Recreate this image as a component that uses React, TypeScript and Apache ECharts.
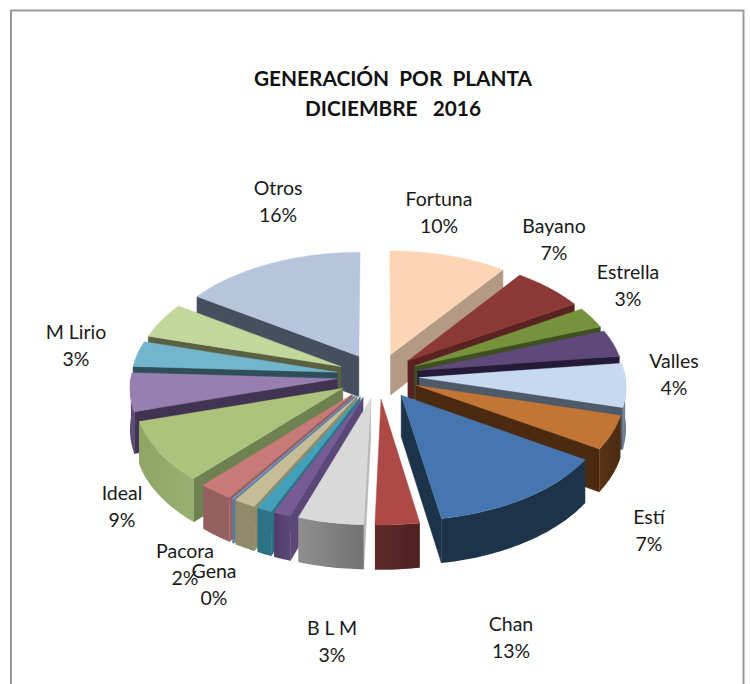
import React, { useEffect, useRef } from "react";
import * as echarts from "echarts";

// ---- data ("" = the slice carries no label in the picture) ----
const plants = ["Fortuna", "Bayano", "Estrella", "Valles", "Estí", "", "Chan", "B L M", "", "", "", "", "Gena", "Pacora", "Ideal", "", "M Lirio", "", "Otros"];
const shares = [10, 6.2, 3.0, 3.8, 6.2, 4.8, 13.3, 3.2, 4.75, 1.25, 1.1, 1.6, 0.1, 2.5, 8.7, 5.4, 3.6, 5, 15.6];
const shownPercent = ["10%", "7%", "3%", "4%", "7%", "", "13%", "3%", "", "", "", "", "0%", "2%", "9%", "", "3%", "", "16%"];

// ---- styles ----
const topColors = ["#fcd5b5", "#8c3836", "#76923c", "#5f497a", "#c6d9f0", "#c27535", "#4676af", "#ad4a47", "#d9d9d9", "#775a96", "#43a0ba", "#c4bd97", "#7ea0d0", "#c77a78", "#adc27c", "#977fb0", "#72b5cc", "#c3d69b", "#b6c4dc"];
const sideColors = ["#b49a84", "#5a2322", "#3e4f21", "#251a38", "#4f5a68", "#4a2b12", "#1d3349", "#52201f", "#b8b8b8", "#5a4878", "#2e7285", "#8e8a6a", "#5a78a0", "#95605f", "#6f8150", "#413352", "#2e4f5a", "#5a6142", "#454f5e"];
const rimLeft = ["#b49a84", "#5a2322", "#3e4f21", "#3a2d52", "#7c8796", "#5a3416", "#1d3349", "#5f2a2a", "#8f8f8f", "#523c6c", "#2e7285", "#908a6a", "#5a78a0", "#95605f", "#8fa566", "#5f4c75", "#2e4f5a", "#5a6142", "#454f5e"];
const rimRight = ["#b49a84", "#5a2322", "#3e4f21", "#3a2d52", "#6c7788", "#4a2b12", "#1d3349", "#4e2020", "#737373", "#5a4878", "#2e7285", "#908a6a", "#5a78a0", "#95605f", "#9ab072", "#5f4c75", "#2e4f5a", "#5a6142", "#454f5e"];

// ---- label placement (centre x, top y of the block) ----
const labelAnchors: Record<string, [number, number]> = {
  Fortuna: [439, 185], Bayano: [554, 212], Estrella: [628, 258], Valles: [674, 347], "Estí": [649, 503],
  Chan: [511, 610], "B L M": [332, 614], Gena: [214, 557], Pacora: [185, 537], Ideal: [122, 479], "M Lirio": [76, 318], Otros: [278, 174],
};

// ---- 3D projection of the exploded pie ----
const CX = 378, CY = 376, RX = 206, RY = 113.8, PERSP = 0.07, EXPLODE = 0.2, DEPTH = 41;
const project = (gx: number, gy: number, drop = 0): number[] => {
  const s = 1 / (1 - PERSP * gy);
  return [CX + RX * gx * s, CY + RY * gy * s + drop * s];
};
const rimPoint = (mid: number, a: number, drop = 0) =>
  project(EXPLODE * Math.sin(mid) + Math.sin(a), -EXPLODE * Math.cos(mid) - Math.cos(a), drop);
const apexPoint = (mid: number, drop = 0) => project(EXPLODE * Math.sin(mid), -EXPLODE * Math.cos(mid), drop);

const total = shares.reduce((a, b) => a + b, 0);
const tableRows = (() => {
  let acc = 0;
  const rows = shares.map((v, i) => {
    const row = [i, v, acc];
    acc += v;
    return row;
  });
  const depth = (r: number[]) => -Math.cos(((r[2] + r[1] / 2) / total) * 2 * Math.PI);
  return rows.slice().sort((a, b) => depth(a) - depth(b));
})();

const renderSlice = (_: any, api: any) => {
  const i = api.value(0);
  const start = (api.value(2) / total) * 2 * Math.PI;
  const end = ((api.value(2) + api.value(1)) / total) * 2 * Math.PI;
  const mid = (start + end) / 2;
  const steps = Math.max(2, Math.ceil((end - start) / 0.02));
  const angles: number[] = [];
  for (let k = 0; k <= steps; k++) angles.push(start + ((end - start) * k) / steps);
  const children: any[] = [];
  const wall = (a: number) => {
    const p = rimPoint(mid, a), q = rimPoint(mid, a, DEPTH), o = apexPoint(mid), u = apexPoint(mid, DEPTH);
    children.push({ type: "polygon", shape: { points: [o, p, q, u] }, style: { fill: sideColors[i], stroke: sideColors[i], lineWidth: 0.5 } });
  };
  if (Math.sin(start) < 0) wall(start);
  if (Math.sin(end) > 0) wall(end);
  const front = angles.filter((a) => Math.cos(a) < 0.02);
  if (front.length > 1) {
    const upper = front.map((a) => rimPoint(mid, a));
    const lower = front.map((a) => rimPoint(mid, a, DEPTH)).reverse();
    children.push({
      type: "polygon",
      shape: { points: upper.concat(lower) },
      style: {
        fill: { type: "linear", x: 1, y: 0, x2: 0, y2: 0, colorStops: [{ offset: 0, color: rimRight[i] }, { offset: 1, color: rimLeft[i] }] },
      },
    });
  }
  const top = [apexPoint(mid)].concat(angles.map((a) => rimPoint(mid, a)));
  children.push({ type: "polygon", shape: { points: top }, style: { fill: topColors[i], stroke: topColors[i], lineWidth: 0.4 } });
  return { type: "group", children };
};

const labelTexts = plants
  .map((name, i) => ({ name, pct: shownPercent[i] }))
  .filter((d) => d.pct !== "" && labelAnchors[d.name])
  .map((d) => ({
    type: "text",
    x: labelAnchors[d.name][0],
    y: labelAnchors[d.name][1],
    silent: true,
    style: {
      text: `${d.name}\n${d.pct}`,
      fontFamily: "Lato",
      fontSize: 19.5,
      lineHeight: 27,
      fill: "#1a1a1a",
      textAlign: "center",
      textVerticalAlign: "top",
    },
  }));

export default function App() {
  const ref = useRef<HTMLDivElement>(null);
  useEffect(() => {
    document.body.style.margin = "0";
    const chart = echarts.init(ref.current!, null, { renderer: "svg" });
    chart.setOption({
      animation: false,
      backgroundColor: "#ffffff",
      title: {
        text: "GENERACIÓN  POR  PLANTA\nDICIEMBRE   2016",
        left: 388,
        top: 57,
        textAlign: "center",
        textStyle: { fontFamily: "Lato", fontWeight: "bold", fontSize: 20.8, lineHeight: 30, color: "#111111" },
      },
      series: [
        {
          type: "custom",
          coordinateSystem: "none",
          silent: true,
          renderItem: renderSlice,
          encode: { value: [1] },
          data: tableRows,
        },
      ],
      graphic: [
        { type: "polyline", shape: { points: [[11, 690], [11, 10.5], [743.5, 10.5], [743.5, 690]] }, style: { stroke: "#999999", lineWidth: 2, fill: "none" }, silent: true },
        ...labelTexts,
      ],
    });
    return () => chart.dispose();
  }, []);
  return <div ref={ref} style={{ width: 750, height: 684 }} />;
}
